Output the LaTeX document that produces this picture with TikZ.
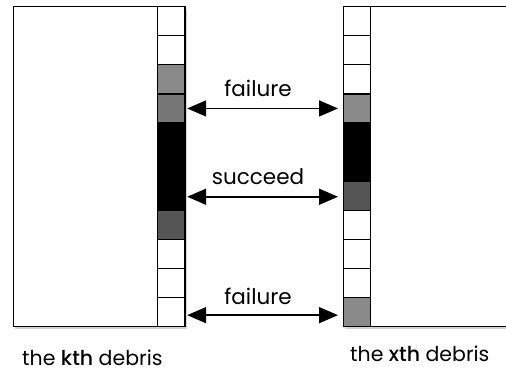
\documentclass[tikz,border=0pt]{standalone}
\usepackage{fontspec}
\setmainfont{Poppins}[BoldFont={Poppins Medium}]
\usetikzlibrary{arrows.meta,shadows}
\definecolor{gA}{HTML}{8A8A8A}
\definecolor{gB}{HTML}{777777}
\definecolor{gC}{HTML}{555555}
\tikzset{
  debris/.style={draw=black, line width=1.3pt, fill=white, inner sep=0pt,
    drop shadow={shadow xshift=1.5pt, shadow yshift=-2pt, opacity=0.35}},
  cellbox/.style={draw=black, line width=1.2pt, minimum width=27pt, minimum height=29.1pt, inner sep=0pt, anchor=north west},
  link/.style={line width=1.6pt, {Triangle[length=19pt,width=16pt]}-{Triangle[length=19pt,width=16pt]}},
  lbl/.style={font=\fontsize{21.5}{21.5}\selectfont, inner sep=0pt},
  caplbl/.style={font=\fontsize{20.5}{20.5}\selectfont, inner sep=0pt, anchor=west}
}
\begin{document}
\begin{tikzpicture}[x=1pt,y=-1pt]
\useasboundingbox (0,0) rectangle (506,373);
\fill[white] (0,0) rectangle (506,373);
% left debris
\node[debris, minimum width=172pt, minimum height=320pt, anchor=north west] (lbox) at (13,6) {};
\foreach \i/\c in {0/white,1/white,2/gA,3/gB,4/black,5/black,6/black,7/gC,8/white,9/white,10/white}{
  \node[cellbox, fill=\c] (L\i) at (157,6+\i*29.1) {};
}
% right debris
\node[debris, minimum width=180pt, minimum height=320pt, anchor=north west] (rbox) at (343,6) {};
\foreach \i/\c in {0/white,1/white,2/white,3/gA,4/black,5/black,6/gC,7/white,8/white,9/white,10/gA}{
  \node[cellbox, fill=\c] (R\i) at (343,6+\i*29.1) {};
}
\draw[link] ([xshift=2pt]L3.east) -- ([xshift=-5pt]L3.east -| R3.west);
\draw[link] ([xshift=2pt,yshift=-1pt]L6.east) -- ([xshift=-5pt,yshift=-1pt]L6.east -| R3.west);
\draw[link] ([xshift=2pt,yshift=-3pt]L10.east) -- ([xshift=-5pt,yshift=-3pt]L10.east -| R3.west);
\node[lbl] (t1) at (258,88) {failure};
\node[lbl] (t2) at (258,177) {succeed};
\node[lbl] (t3) at (258,296) {failure};
\node[caplbl] (kl) at (22,358) {the \textbf{kth} debris};
\node[caplbl] (xl) at (350,354) {the \textbf{xth} debris};
\end{tikzpicture}
\end{document}
